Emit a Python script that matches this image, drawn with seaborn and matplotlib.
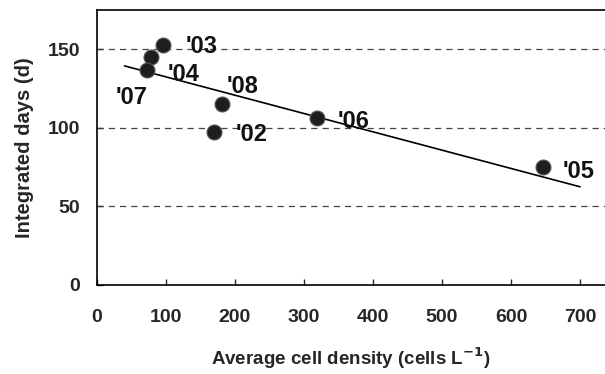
import matplotlib
matplotlib.use("Agg")
import matplotlib.pyplot as plt
import seaborn as sns
import pandas as pd

years = ["'02", "'03", "'04", "'05", "'06", "'07", "'08"]
cell_density = [170, 96, 79, 646, 319, 73, 182]
integrated_days = [97.5, 152.5, 145, 75, 106.5, 137, 115.5]

fit_x = [40, 700]
fit_y = [139.5, 62.5]

label_offsets = {"'02": (21, -3), "'03": (23, -1), "'04": (16, -17), "'05": (20, -4),
                 "'06": (21, -4), "'07": (-32, -28), "'08": (4, 17)}

sns.set_theme(style="ticks")
plt.rcParams['font.family'] = ['Liberation Sans', 'DejaVu Sans']
plt.rcParams['font.weight'] = 'bold'

df = pd.DataFrame({"x": cell_density, "y": integrated_days, "year": years})
fit = pd.DataFrame({"x": fit_x, "y": fit_y})

fig = plt.figure(figsize=(6.05, 3.74), dpi=100)
ax = fig.add_axes([0.160, 0.238, 0.84, 0.735])

for yv in [50, 100, 150]:
    ax.axhline(yv, color="#444444", lw=0.9, ls=(0, (5, 4)), zorder=1)

sns.lineplot(data=fit, x="x", y="y", ax=ax, color="black", lw=1.2, zorder=2)
sns.scatterplot(data=df, x="x", y="y", ax=ax, s=115, color="#1e1e1e",
                edgecolor="#555555", linewidth=0.8, zorder=3)

for xv, yv, lab in zip(cell_density, integrated_days, years):
    dx, dy = label_offsets[lab]
    ax.annotate(lab, (xv, yv), xytext=(dx, dy), textcoords="offset pixels",
                ha="left", va="center", fontsize=17, fontweight="bold", color="#111111")

ax.set_xlim(0, 736)
ax.set_ylim(0, 175)
ax.set_xticks([0, 100, 200, 300, 400, 500, 600, 700])
ax.set_yticks([0, 50, 100, 150])
ax.tick_params(direction="in", length=4, width=1, labelsize=14)
ax.tick_params(axis="x", pad=17)
ax.tick_params(axis="y", pad=12)
for lab in ax.get_xticklabels() + ax.get_yticklabels():
    lab.set_fontweight("bold")
ax.spines["right"].set_visible(False)
for sp in ["left", "bottom", "top"]:
    ax.spines[sp].set_linewidth(1.2)
    ax.spines[sp].set_color("black")

ax.set_xlabel("Average cell density (cells L$^{\\mathbf{-1}}$)", fontsize=13.5, fontweight="bold", labelpad=14)
ax.set_ylabel("Integrated days (d)", fontsize=14.5, fontweight="bold", labelpad=10)

fig.savefig("out.png", dpi=100)
